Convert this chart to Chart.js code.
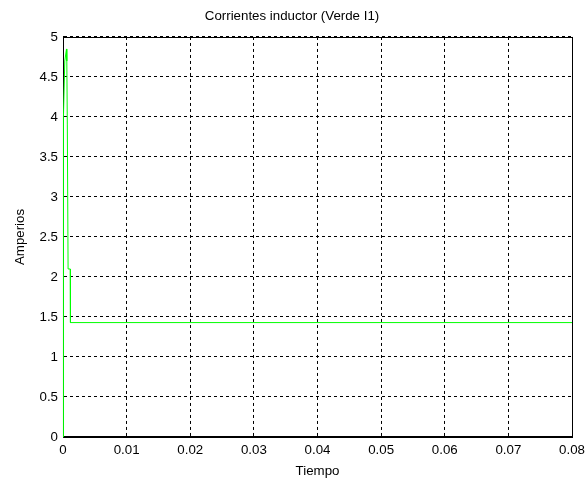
<!DOCTYPE html>
<html>
<head>
<meta charset="utf-8">
<script src="https://cdn.jsdelivr.net/npm/chart.js@4.4.0/dist/chart.umd.min.js"></script>
<style>
  html, body { margin: 0; padding: 0; background: #fff; }
  #wrap { width: 587px; height: 479px; }
</style>
</head>
<body>
<div id="wrap"><canvas id="c" width="587" height="479"></canvas></div>
<script>
// tiempo (s) y corriente (A)
const tiempo = [0, 0.00002, 0.00012, 0.00028, 0.00055, 0.0006, 0.00068, 0.0008, 0.00114, 0.00117, 0.08];
const corriente = [0, 2.1, 4.0, 4.7, 4.85, 4.7, 3.9, 2.1, 2.1, 1.43, 1.43];
const xTicks = [0, 0.01, 0.02, 0.03, 0.04, 0.05, 0.06, 0.07, 0.08];
const yTicks = [0, 0.5, 1, 1.5, 2, 2.5, 3, 3.5, 4, 4.5, 5];

const font = { family: 'Liberation Sans, Arial, sans-serif', size: 13.3 };

// caja completa alrededor del area de trazado (estilo MATLAB)
const frame = {
    id: 'frame',
    beforeDatasetsDraw(chart) {
        const { ctx, chartArea: a } = chart;
        ctx.save();
        ctx.strokeStyle = '#000';
        ctx.lineWidth = 1;
        ctx.strokeRect(Math.round(a.left) + 0.5, Math.round(a.top) + 0.5,
            Math.round(a.right - a.left), Math.round(a.bottom - a.top));
        ctx.restore();
    }
};

new Chart(document.getElementById('c'), {
    type: 'line',
    data: {
        datasets: [{
            label: 'I1',
            data: tiempo.map((t, i) => ({ x: t, y: corriente[i] })),
            borderColor: '#00ff00',
            borderWidth: 1,
            pointRadius: 0,
            tension: 0,
            clip: 2
        }]
    },
    options: {
        responsive: false,
        animation: false,
        layout: { padding: { left: 12, right: 15, top: 8, bottom: 0 } },
        plugins: {
            legend: { display: false },
            tooltip: { enabled: false },
            title: {
                display: true,
                text: 'Corrientes inductor (Verde I1)',
                color: '#000',
                font: { ...font, weight: 'normal' },
                padding: { top: 0, bottom: 13 }
            }
        },
        scales: {
            x: {
                type: 'linear',
                min: 0, max: 0.08,
                afterBuildTicks: ax => { ax.ticks = xTicks.map(v => ({ value: v })); },
                ticks: { color: '#000', font, maxRotation: 0, padding: 5,
                    callback: v => String(v) },
                grid: { color: '#000', lineWidth: 1, drawTicks: false },
                border: { color: '#000', dash: [3, 3] },
                title: { display: true, text: 'Tiempo', color: '#000', font, padding: { top: 0, bottom: 0 } },
                afterFit: ax => { ax.height = 42; ax.paddingLeft = 0; ax.paddingRight = 0; }
            },
            y: {
                min: 0, max: 5,
                afterBuildTicks: ax => { ax.ticks = yTicks.map(v => ({ value: v })); },
                ticks: { color: '#000', font, padding: 5, callback: v => String(v) },
                grid: { color: '#000', lineWidth: 1, drawTicks: false },
                border: { color: '#000', dash: [3, 3] },
                title: { display: true, text: 'Amperios', color: '#000', font, padding: { top: 0, bottom: 0 } },
                afterFit: ax => { ax.width = 51; }
            }
        }
    },
    plugins: [frame]
});
</script>
</body>
</html>
